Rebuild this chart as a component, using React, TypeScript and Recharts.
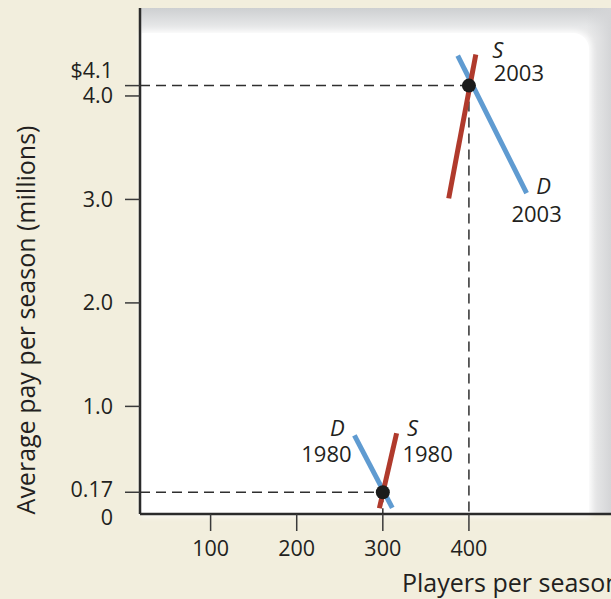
import React from 'react';
import { ComposedChart, Line, Scatter, XAxis, YAxis, ReferenceLine } from 'recharts';

// axis ticks
const PLAYER_TICKS = [100, 200, 300, 400];
const PAY_TICKS = [0, 0.17, 1, 2, 3, 4, 4.1];
const PAY_TICK_LABELS = ['0', '0.17', '1.0', '2.0', '3.0', '4.0', '$4.1'];

// supply / demand segments (players per season, pay in $ millions)
const demand1980 = [{ players: 267, pay: 0.72 }, { players: 311, pay: 0.02 }];
const supply1980 = [{ players: 316, pay: 0.74 }, { players: 296, pay: 0.015 }];
const demand2003 = [{ players: 387, pay: 4.39 }, { players: 467, pay: 3.06 }];
const supply2003 = [{ players: 408, pay: 4.4 }, { players: 376.5, pay: 3.01 }];
const equilibria = [{ players: 300, pay: 0.17 }, { players: 400, pay: 4.1 }];

const X_DOMAIN = [18, 565];
const Y_DOMAIN = [-0.04, 4.85];

const INK = '#231f20';
const FONT = '"Open Sans", "Liberation Sans", sans-serif';
const BLUE = '#5f9bd1';
const RED = '#b03a2c';

// small nudges so the crowded labels sit where the printed figure has them
const labelShift = (v: number) => (v === 4.1 ? -15 : v === 0 ? 8 : v === 0.17 ? -3 : 0);

const PayTick = (props: any) => {
  const { x, y, payload } = props;
  const i = PAY_TICKS.indexOf(payload.value);
  return (
    <g>
      {payload.value !== 0 && (
        <line x1={x - 15} x2={x} y1={y} y2={y} stroke="#3a3a3a" strokeWidth={1.5} />
      )}
      <text
        x={x - 27}
        y={y + labelShift(payload.value) + 7.5}
        textAnchor="end"
        fontSize={21.5}
        fill={INK}
        fontFamily={FONT}
      >
        {PAY_TICK_LABELS[i]}
      </text>
    </g>
  );
};

const PlayerTick = (props: any) => {
  const { x, y, payload } = props;
  return (
    <g>
      <line x1={x} x2={x} y1={y} y2={y + 17} stroke="#3a3a3a" strokeWidth={1.5} />
      <text x={x} y={y + 42} textAnchor="middle" fontSize={21.5} fill={INK} fontFamily={FONT}>
        {payload.value}
      </text>
    </g>
  );
};

const curveLabel =
  (anchor: number, letter: string, year: string, lx: number, ly: number, yx: number, yy: number) =>
  (props: any) => {
    if (props.index !== anchor) return <g />;
    return (
      <g fontFamily={FONT} fontSize={22} fill={INK}>
        <text x={props.x + lx} y={props.y + ly + 8} textAnchor="middle" fontStyle="italic">
          {letter}
        </text>
        <text x={props.x + yx} y={props.y + yy + 8} textAnchor="middle">
          {year}
        </text>
      </g>
    );
  };

const YTitle = () => (
  <text
    x={25}
    y={320}
    transform="rotate(-90, 25, 320)"
    textAnchor="middle"
    dominantBaseline="central"
    fontSize={25}
    fill={INK}
    fontFamily={FONT}
  >
    Average pay per season (millions)
  </text>
);

const XTitle = () => (
  <text x={402} y={592} fontSize={25} fill={INK} fontFamily={FONT}>
    Players per season
  </text>
);

const dashed = { stroke: '#2f2f2f', strokeWidth: 1.5, strokeDasharray: '10 6' };

export default function App() {
  return (
    <div
      style={{
        position: 'absolute',
        left: 0,
        top: 0,
        width: 611,
        height: 599,
        overflow: 'hidden',
        background: '#f2eedd',
      }}
    >
      {/* grey panel with white plot card */}
      <div
        style={{
          position: 'absolute',
          left: 141,
          top: 8,
          width: 470,
          height: 506,
          background:
            'linear-gradient(to right, rgba(212,213,215,0) 445px, rgba(212,213,215,1) 470px), linear-gradient(to bottom, #cdcfd1 0px, #e6e7e8 18px, #efefef 30px, #f1f1f1 100%)',
        }}
      />
      <div
        style={{
          position: 'absolute',
          left: 142,
          top: 33,
          width: 447,
          height: 481,
          background: '#ffffff',
          borderTopRightRadius: 16,
          boxShadow: '0 0 6px 2px #ffffff',
        }}
      />
      <div style={{ position: 'absolute', left: 0, top: 0 }}>
        <ComposedChart width={611} height={599} margin={{ top: 8, right: 0, bottom: 0, left: 0 }}>
          <XAxis
            type="number"
            dataKey="players"
            domain={X_DOMAIN}
            allowDataOverflow
            ticks={PLAYER_TICKS}
            interval={0}
            height={85}
            tickSize={0}
            tickMargin={0}
            tickLine={false}
            tick={<PlayerTick />}
            axisLine={{ stroke: '#2b2b2b', strokeWidth: 2.5 }}
            label={<XTitle />}
          />
          <YAxis
            type="number"
            dataKey="pay"
            domain={Y_DOMAIN}
            allowDataOverflow
            ticks={PAY_TICKS}
            interval={0}
            width={140}
            tickSize={0}
            tickMargin={0}
            tickLine={false}
            tick={<PayTick />}
            axisLine={{ stroke: '#2b2b2b', strokeWidth: 2.5 }}
            label={<YTitle />}
          />
          <ReferenceLine segment={[{ x: X_DOMAIN[0], y: 4.1 }, { x: 400, y: 4.1 }]} {...dashed} />
          <ReferenceLine segment={[{ x: 400, y: 4.1 }, { x: 400, y: Y_DOMAIN[0] }]} {...dashed} />
          <ReferenceLine segment={[{ x: X_DOMAIN[0], y: 0.17 }, { x: 300, y: 0.17 }]} {...dashed} />
          <ReferenceLine segment={[{ x: 300, y: 0.17 }, { x: 300, y: Y_DOMAIN[0] }]} {...dashed} />
          <Line
            data={demand1980}
            dataKey="pay"
            stroke={BLUE}
            strokeWidth={5}
            dot={false}
            activeDot={false}
            isAnimationActive={false}
            label={curveLabel(0, 'D', '1980', -17, -7, -28, 19)}
          />
          <Line
            data={demand2003}
            dataKey="pay"
            stroke={BLUE}
            strokeWidth={5}
            dot={false}
            activeDot={false}
            isAnimationActive={false}
            label={curveLabel(1, 'D', '2003', 17, -7, 10, 21)}
          />
          <Line
            data={supply1980}
            dataKey="pay"
            stroke={RED}
            strokeWidth={5}
            dot={false}
            activeDot={false}
            isAnimationActive={false}
            label={curveLabel(0, 'S', '1980', 16, -5, 31, 21)}
          />
          <Line
            data={supply2003}
            dataKey="pay"
            stroke={RED}
            strokeWidth={5}
            dot={false}
            activeDot={false}
            isAnimationActive={false}
            label={curveLabel(0, 'S', '2003', 22, -5, 43, 18)}
          />
          <Scatter
            data={equilibria}
            dataKey="pay"
            fill="#1b1b1b"
            isAnimationActive={false}
            shape={(p: any) => <circle cx={p.cx} cy={p.cy} r={7} fill="#1b1b1b" />}
          />
        </ComposedChart>
      </div>
    </div>
  );
}
